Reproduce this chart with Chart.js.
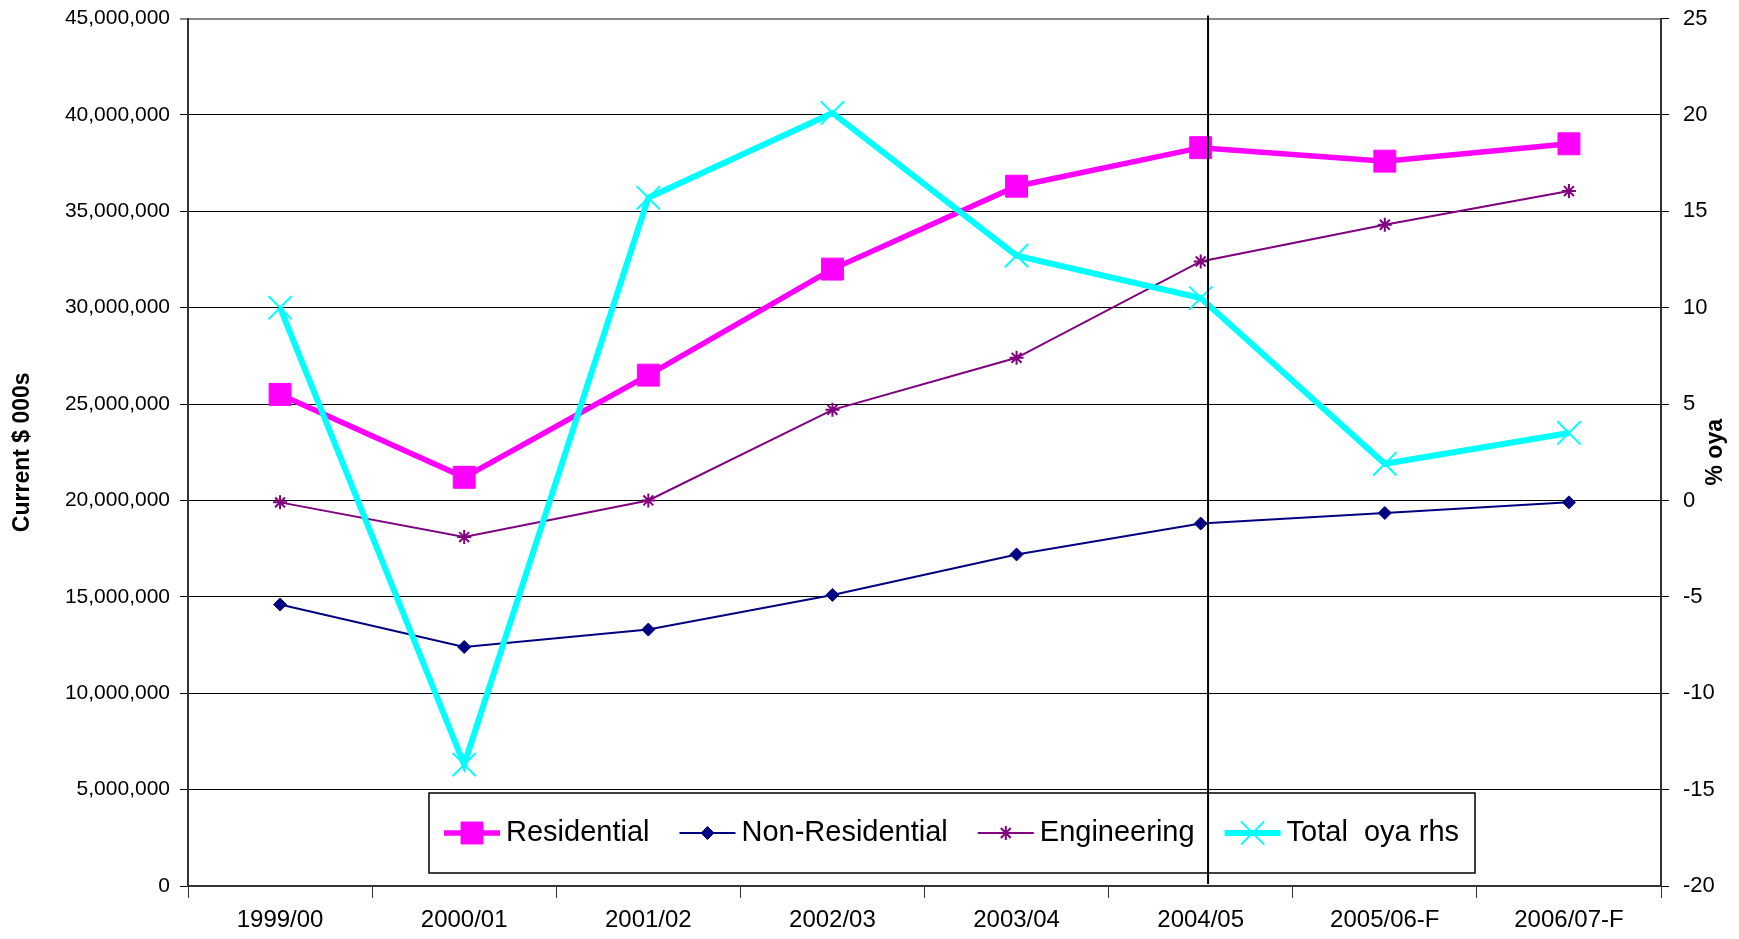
<!DOCTYPE html>
<html>
<head>
<meta charset="utf-8">
<script src="https://cdn.jsdelivr.net/npm/chart.js@4.4.1/dist/chart.umd.min.js"></script>
<style>
  body { margin: 0; background: #fff; }
  #wrap { width: 1739px; height: 939px; }
</style>
</head>
<body>
<div id="wrap"><canvas id="chart" width="1739" height="939"></canvas></div>
<script>
// data
const years = ['1999/00', '2000/01', '2001/02', '2002/03', '2003/04', '2004/05', '2005/06-F', '2006/07-F'];
const residential = [25500000, 21200000, 26500000, 32000000, 36300000, 38300000, 37600000, 38500000];
const nonResidential = [14600000, 12400000, 13300000, 15100000, 17200000, 18800000, 19350000, 19900000];
const engineering = [19900000, 18100000, 20000000, 24700000, 27400000, 32400000, 34300000, 36050000];
const totalOya = [10.0, -13.7, 15.7, 20.1, 12.7, 10.5, 1.9, 3.5];
const dividerAt = 5.04; // vertical marker just after 2004/05

const FONT = '"Liberation Sans", Arial, sans-serif';

// legend drawn inside the plot, like the original
const legendBox = {
    id: 'legendBox',
    afterDatasetsDraw(chart) {
        const ctx = chart.ctx;
        const area = chart.chartArea;
        const left = area.left + 241;
        const right = area.left + 1287;
        const bottom = area.bottom - 13;
        const top = bottom - 80;
        const y = (top + bottom) / 2;
        ctx.save();
        ctx.fillStyle = '#fff';
        ctx.fillRect(left, top, right - left, bottom - top);
        ctx.strokeStyle = '#000';
        ctx.lineWidth = 1.5;
        ctx.strokeRect(left, top, right - left, bottom - top);
        ctx.font = '29px ' + FONT;
        ctx.textBaseline = 'middle';
        let x = left + 15;
        chart.data.datasets.forEach(function(ds) {
            ctx.strokeStyle = ds.borderColor;
            ctx.lineWidth = ds.borderWidth;
            ctx.beginPath();
            ctx.moveTo(x, y);
            ctx.lineTo(x + 56, y);
            ctx.stroke();
            ctx.fillStyle = ds.pointBackgroundColor;
            ctx.strokeStyle = ds.pointBorderColor;
            ctx.lineWidth = ds.pointBorderWidth;
            Chart.helpers.drawPoint(ctx, {
                pointStyle: ds.pointStyle,
                radius: ds.pointRadius,
                borderWidth: ds.pointBorderWidth,
                rotation: 0
            }, x + 28, y);
            ctx.fillStyle = '#000';
            ctx.fillText(ds.label, x + 62, y);
            x += 62 + ctx.measureText(ds.label).width + 30;
        });
        ctx.restore();
    },
    afterDraw(chart) {
        const ctx = chart.ctx;
        const area = chart.chartArea;
        const xs = chart.scales.x;
        const px = xs.getPixelForValue(dividerAt);
        ctx.save();
        ctx.strokeStyle = '#000';
        ctx.lineWidth = 2;
        ctx.beginPath();
        ctx.moveTo(px, area.top - 3);
        ctx.lineTo(px, area.bottom - 2);
        ctx.stroke();
        // right axis title, reading bottom-to-top
        const r = chart.scales.y1;
        ctx.translate(r.right - 23, (area.top + area.bottom) / 2);
        ctx.rotate(-Math.PI / 2);
        ctx.font = 'bold 23px ' + FONT;
        ctx.fillStyle = '#000';
        ctx.textAlign = 'center';
        ctx.textBaseline = 'middle';
        ctx.fillText('% oya', 0, 0);
        ctx.restore();
    }
};

const ctx = document.getElementById('chart').getContext('2d');
new Chart(ctx, {
    type: 'line',
    data: {
        labels: years,
        datasets: [{
            label: 'Residential',
            data: residential,
            yAxisID: 'y',
            borderColor: '#FF00FF',
            borderWidth: 5.5,
            pointStyle: 'rect',
            pointRadius: 15.5,
            pointBackgroundColor: '#FF00FF',
            pointBorderColor: '#FF00FF',
            pointBorderWidth: 1,
            order: 4
        }, {
            label: 'Non-Residential',
            data: nonResidential,
            yAxisID: 'y',
            borderColor: '#000080',
            borderWidth: 2,
            pointStyle: 'rectRot',
            pointRadius: 6.5,
            pointBackgroundColor: '#000080',
            pointBorderColor: '#000080',
            pointBorderWidth: 1,
            order: 3
        }, {
            label: 'Engineering',
            data: engineering,
            yAxisID: 'y',
            borderColor: '#800080',
            borderWidth: 2,
            pointStyle: 'star',
            pointRadius: 7,
            pointBackgroundColor: '#800080',
            pointBorderColor: '#800080',
            pointBorderWidth: 2,
            order: 2
        }, {
            label: 'Total  oya rhs',
            data: totalOya,
            yAxisID: 'y1',
            borderColor: '#00FFFF',
            borderWidth: 6,
            pointStyle: 'crossRot',
            pointRadius: 16.5,
            pointBackgroundColor: '#00FFFF',
            pointBorderColor: '#00FFFF',
            pointBorderWidth: 2,
            order: 1
        }]
    },
    options: {
        responsive: false,
        animation: false,
        layout: { padding: { top: 17, left: 0, right: 0, bottom: 0 } },
        elements: { line: { tension: 0 } },
        plugins: {
            legend: { display: false },
            tooltip: { enabled: false }
        },
        scales: {
            x: {
                offset: true,
                grid: { offset: true, drawOnChartArea: false, tickLength: 12, color: '#333', lineWidth: 1 },
                border: { color: '#333', width: 2 },
                ticks: { color: '#000', font: { family: FONT, size: 24 }, padding: 8, maxRotation: 0 },
                afterFit: function(s) { s.height = 53; s.paddingLeft = 0; s.paddingRight = 0; }
            },
            y: {
                position: 'left',
                min: 0,
                max: 45000000,
                grid: {
                    color: function(c) { return c.tick && c.tick.value === 45000000 ? '#888' : '#000'; },
                    lineWidth: function(c) { return c.tick && c.tick.value === 45000000 ? 2 : 1; },
                    tickLength: 8
                },
                border: { color: '#333', width: 2 },
                ticks: {
                    stepSize: 5000000,
                    color: '#000',
                    padding: 10,
                    font: { family: FONT, size: 21 },
                    callback: function(v) { return v.toLocaleString('en-US'); }
                },
                title: {
                    display: true,
                    text: 'Current $ 000s',
                    color: '#000',
                    font: { family: FONT, size: 23, weight: 'bold' },
                    padding: { top: 9, bottom: 0 }
                },
                afterFit: function(s) { s.width = 188; s.paddingTop = 0; s.paddingBottom = 0; }
            },
            y1: {
                position: 'right',
                min: -20,
                max: 25,
                grid: { drawOnChartArea: false, tickLength: 8, color: '#000' },
                border: { color: '#333', width: 2 },
                ticks: {
                    stepSize: 5,
                    color: '#000',
                    padding: 14,
                    font: { family: FONT, size: 22 }
                },
                afterFit: function(s) { s.width = 78; s.paddingTop = 0; s.paddingBottom = 0; }
            }
        }
    },
    plugins: [legendBox]
});
</script>
</body>
</html>
